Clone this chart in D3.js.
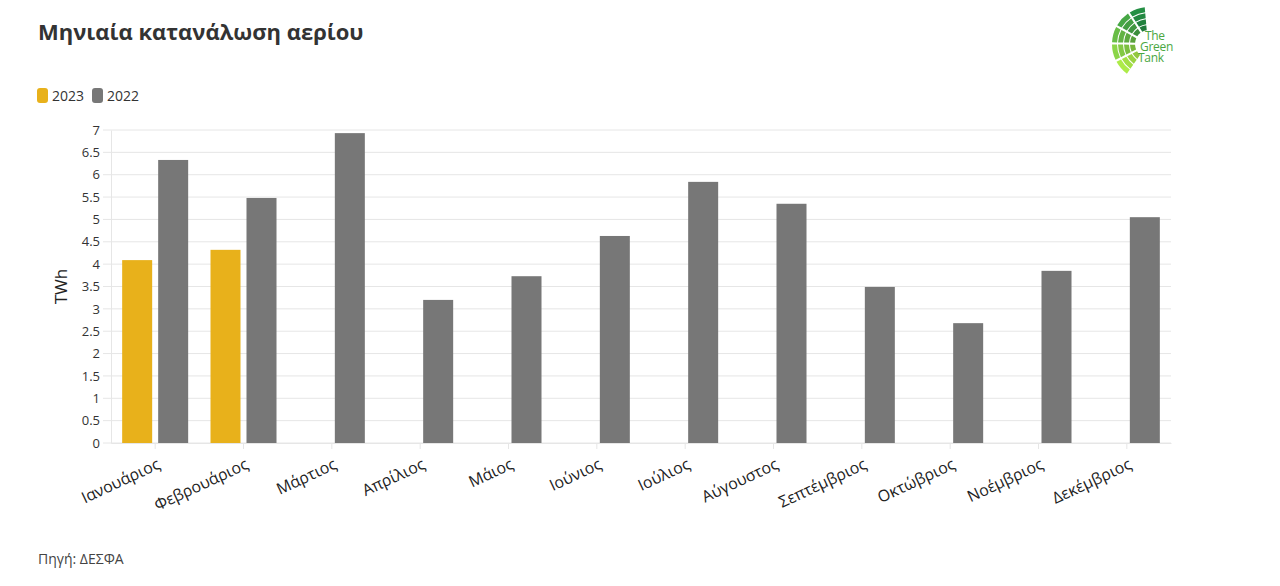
<!doctype html>
<html>
  <head>
    <meta charset="utf-8">
    <title>Μηνιαία κατανάλωση αερίου</title>
    <script src="https://cdnjs.cloudflare.com/ajax/libs/d3/7.8.5/d3.min.js"></script>
    <style>
      body { margin: 0; background: #fff; font-family: "Open Sans", "Noto Sans", sans-serif; }
    </style>
  </head>
  <body>
    <div id="chart"></div>
    <script>
      // data
      const months = ['Ιανουάριος', 'Φεβρουάριος', 'Μάρτιος', 'Απρίλιος', 'Μάιος', 'Ιούνιος',
                      'Ιούλιος', 'Αύγουστος', 'Σεπτέμβριος', 'Οκτώβριος', 'Νοέμβριος', 'Δεκέμβριος'];
      const years = ['2023', '2022'];
      const values2023 = [4.09, 4.32, null, null, null, null, null, null, null, null, null, null];
      const values2022 = [6.33, 5.48, 6.93, 3.20, 3.73, 4.63, 5.84, 5.35, 3.49, 2.68, 3.85, 5.05];
      const yTicks = [0, 0.5, 1, 1.5, 2, 2.5, 3, 3.5, 4, 4.5, 5, 5.5, 6, 6.5, 7];

      const colors = { '2023': '#e8b11b', '2022': '#777777' };

      const width = 1280, height = 586;
      const margin = { left: 111, right: 109, top: 130, bottom: 143 };

      const svg = d3.select('#chart').append('svg')
        .attr('width', width)
        .attr('height', height);

      const x = d3.scaleBand().domain(months)
        .range([margin.left, width - margin.right]);
      const y = d3.scaleLinear().domain([0, 7])
        .range([height - margin.bottom, margin.top]);

      // gridlines
      svg.append('g')
        .selectAll('line')
        .data(yTicks)
        .join('line')
        .attr('x1', margin.left - 8)
        .attr('x2', width - margin.right)
        .attr('y1', d => y(d))
        .attr('y2', d => y(d))
        .attr('stroke', '#e6e6e6')
        .attr('stroke-width', 1);

      // y axis
      const yAxis = svg.append('g')
        .attr('transform', `translate(${margin.left},0)`)
        .call(d3.axisLeft(y).tickValues(yTicks).tickSize(0).tickPadding(11).tickFormat(d3.format('')));
      yAxis.select('.domain').attr('stroke', '#e6e6e6');
      yAxis.selectAll('text')
        .style('font-family', '"Open Sans", sans-serif')
        .style('font-size', '13px')
        .attr('fill', '#333');

      svg.append('text')
        .attr('transform', `translate(67,${(y(0) + y(7)) / 2}) rotate(-90)`)
        .attr('text-anchor', 'middle')
        .style('font-size', '17px')
        .attr('fill', '#222')
        .text('TWh');

      // bars
      const barW = 30, gap = 6;
      const offset = { '2023': -gap / 2 - barW, '2022': gap / 2 };
      const series = [
        { year: '2023', values: values2023 },
        { year: '2022', values: values2022 }
      ];

      series.forEach(s => {
        svg.append('g')
          .selectAll('rect')
          .data(months.map((m, i) => ({ m, v: s.values[i] })).filter(d => d.v != null))
          .join('rect')
          .attr('x', d => x(d.m) + x.bandwidth() / 2 + offset[s.year])
          .attr('width', barW)
          .attr('y', d => y(d.v))
          .attr('height', d => y(0) - y(d.v))
          .attr('fill', colors[s.year]);
      });

      // x axis
      const xAxis = svg.append('g')
        .attr('transform', `translate(0,${y(0)})`)
        .call(d3.axisBottom(x).tickSize(6).tickSizeOuter(0));
      xAxis.select('.domain').attr('stroke', '#e6e6e6');
      xAxis.selectAll('.tick line').attr('stroke', '#e6e6e6');
      xAxis.selectAll('text')
        .style('font-family', '"Open Sans", sans-serif')
        .style('font-size', '16px')
        .attr('fill', '#222')
        .attr('text-anchor', 'end')
        .attr('y', 0)
        .attr('dy', 0)
        .attr('transform', 'translate(6,25) rotate(-25)');

      // title
      svg.append('text')
        .attr('x', 38).attr('y', 40)
        .style('font-size', '22px')
        .style('font-weight', 'bold')
        .attr('fill', '#333')
        .text('Μηνιαία κατανάλωση αερίου');

      // legend
      const legend = svg.append('g').attr('transform', 'translate(37,88)');
      const lx = [0, 55];
      years.forEach((yr, i) => {
        legend.append('rect')
          .attr('x', lx[i]).attr('y', 0)
          .attr('width', 11).attr('height', 15)
          .attr('rx', 3)
          .attr('fill', colors[yr]);
        legend.append('text')
          .attr('x', lx[i] + 15).attr('y', 13)
          .style('font-size', '14px')
          .attr('fill', '#333')
          .text(yr);
      });

      // source
      svg.append('text')
        .attr('x', 38).attr('y', 564)
        .style('font-size', '14px')
        .attr('fill', '#444')
        .text('Πηγή: ΔΕΣΦΑ');

      // logo: fan of green tiles + name
      const logo = svg.append('g').attr('transform', 'translate(1149,44)');
      const segs = 5, rings = 4;
      const a0 = -145 * Math.PI / 180, a1 = -5 * Math.PI / 180;
      const tileColor = d3.scaleLinear().domain([0, segs - 1]).range(['#93c83e', '#1f7a3a']);
      const arc = d3.arc().padAngle(0.07).padRadius(30);
      for (let s = 0; s < segs; s++) {
        for (let r = 0; r < rings; r++) {
          const sa = a0 + (a1 - a0) * s / segs;
          const ea = a0 + (a1 - a0) * (s + 1) / segs;
          logo.append('path')
            .attr('d', arc({ innerRadius: 14 + r * 6, outerRadius: 19 + r * 6, startAngle: sa, endAngle: ea }))
            .attr('fill', d3.color(tileColor(s)).brighter(r * 0.15));
        }
      }
      const names = ['The', 'Green', 'Tank'];
      const nx = [1145, 1140, 1138];
      names.forEach((t, i) => {
        svg.append('text')
          .attr('x', nx[i]).attr('y', 40 + i * 11)
          .style('font-size', '12px')
          .style('letter-spacing', '-0.3px')
          .attr('fill', '#4aa742')
          .text(t);
      });
    </script>
  </body>
</html>
